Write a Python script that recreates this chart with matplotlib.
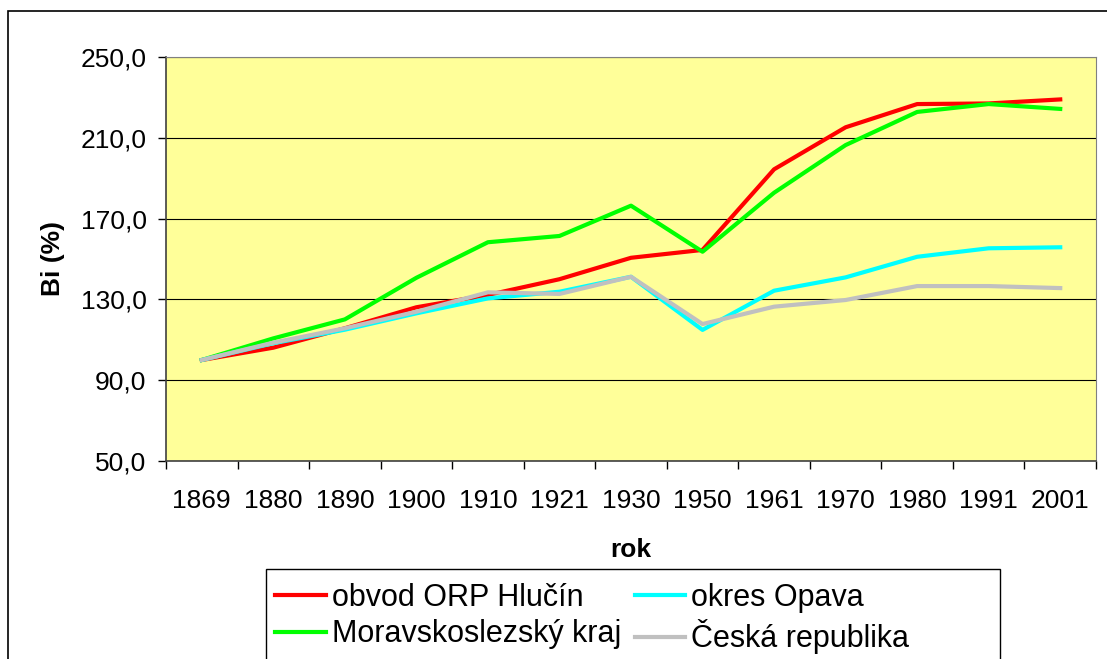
import numpy as np
import matplotlib
matplotlib.use("Agg")
import matplotlib.pyplot as plt
from matplotlib.patches import Rectangle

plt.rcParams['font.family'] = ['Liberation Sans', 'DejaVu Sans']

roky = ['1869', '1880', '1890', '1900', '1910', '1921', '1930',
        '1950', '1961', '1970', '1980', '1991', '2001']
hlucin = [100.0, 106.1, 115.7, 126.1, 132.2, 140.0, 150.6,
          154.5, 194.4, 215.2, 226.7, 227.0, 229.0]
msk = [100.0, 110.7, 120.1, 140.7, 158.3, 161.4, 176.4,
       153.6, 182.8, 206.4, 222.8, 226.7, 224.3]
opava = [100.0, 108.3, 115.0, 123.1, 130.5, 133.8, 141.2,
         114.9, 134.3, 140.9, 151.1, 155.3, 155.8]
cr = [100.0, 108.6, 115.7, 123.9, 133.5, 132.7, 141.2,
      117.8, 126.4, 129.7, 136.6, 136.6, 135.6]

W, H = 1107, 659
fig = plt.figure(figsize=(W / 100, H / 100), dpi=100)

# outer chart border (right and bottom are cut off)
fig.patches.append(Rectangle((8 / W, -0.1), 1.2, 1 - 11 / H + 0.1,
                             transform=fig.transFigure, fill=False,
                             edgecolor='black', linewidth=1.2))

ax = fig.add_axes([166 / W, 1 - 461 / H, (1096 - 166) / W, (461 - 57) / H])
ax.set_facecolor('#FFFF99')

x = np.arange(len(roky))
ax.plot(x, hlucin, color='#FF0000', lw=3, label='obvod ORP Hlučín')
ax.plot(x, msk, color='#00FF00', lw=3, label='Moravskoslezský kraj')
ax.plot(x, opava, color='#00FFFF', lw=3, label='okres Opava')
ax.plot(x, cr, color='#C0C0C0', lw=3, label='Česká republika')

ax.set_xlim(-0.5, len(roky) - 0.5)
ax.set_ylim(50, 250)
yt = np.arange(50, 251, 40)
ax.set_yticks(yt)
ax.set_yticklabels([f'{v:.1f}'.replace('.', ',') for v in yt])
ax.set_xticks(x)
ax.set_xticklabels(roky)
ax.set_xticks(np.arange(-0.5, len(roky), 1), minor=True)
ax.tick_params(axis='x', which='major', length=0, pad=20, labelsize=19)
ax.tick_params(axis='x', which='minor', length=6, width=1, direction='out')
ax.tick_params(axis='y', length=6, width=1, pad=8, labelsize=19)
ax.yaxis.grid(True, color='black', lw=0.8)
ax.set_axisbelow(True)

for s in ['top', 'right']:
    ax.spines[s].set_color('#808080')
for s in ['left', 'bottom']:
    ax.spines[s].set_color('#404040')
    ax.spines[s].set_linewidth(1.2)

ax.set_ylabel('Bi (%)', fontsize=19, fontweight='bold', labelpad=11)
ax.set_xlabel('rok', fontsize=19, fontweight='bold', labelpad=18)

# legend frame drawn separately (Excel box is wider than its entries)
fig.patches.append(Rectangle((266 / W, -0.1), (1000 - 266) / W,
                             1 - 569 / H + 0.1, transform=fig.transFigure,
                             fill=False, edgecolor='black', linewidth=1.0))
leg = fig.legend(loc='upper left', bbox_to_anchor=(266 / W, 1 - 574 / H),
                 ncol=2, frameon=False, borderaxespad=0,
                 handlelength=1.65, handletextpad=0.2, columnspacing=0.45,
                 borderpad=0.3, labelspacing=0.2, fontsize=22)

fig.savefig('out.png', dpi=100)
